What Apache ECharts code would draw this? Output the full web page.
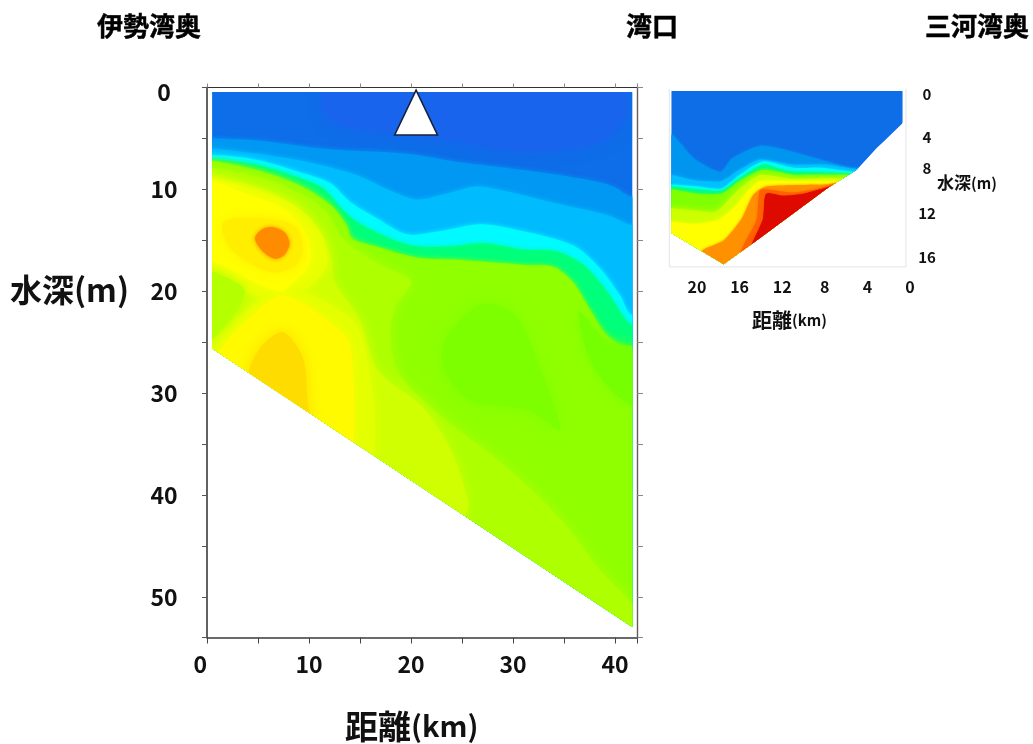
<!DOCTYPE html>
<html><head><meta charset="utf-8">
<style>html,body{margin:0;padding:0;background:#fff}#c{width:1033px;height:744px;filter:blur(0.45px)}</style>
<script src="https://cdn.jsdelivr.net/npm/echarts@6/dist/echarts.min.js"></script>
</head><body><div id="c"></div>
<script>
// Tick values
const mainDistanceTicks = [0, 10, 20, 30, 40];
const mainDepthTicks = [0, 10, 20, 30, 40, 50];
const insetDistanceTicks = [0, 4, 8, 12, 16, 20];
const insetDepthTicks = [0, 4, 8, 12, 16];

// Section outlines [km, depth m]
const mainSection = [[0.5,0.45],[41.7,0.45],[41.7,52.9],[0.5,25.6]];
const insetSection = [[22.4,0],[0.7,0],[0.7,3.1],[3.1,5.5],[5,7.6],[7.8,9.4],[14.4,14.4],[17.5,16.7],[22.4,13.7]];

// Main section: contour boundaries (deeper side is filled)
const mainC1 = [[0.6,5.0],[4.9,5.2],[11.4,6.0],[19.6,6.5],[24.5,7.3],[31,8.1],[37.5,9.1],[39.8,9.7],[41.6,10.7]];
const mainC2 = [[0.6,6.0],[4.9,6.5],[9.8,7.3],[14.7,8.6],[17.9,10.1],[20.6,11.0],[23.2,10.5],[26.4,9.7],[29.4,10.2],[34.3,11.4],[39.2,12.5],[41.6,13.5]];
const mainC3 = [[0.6,6.6],[4.9,7.1],[9.1,8.3],[12.1,9.4],[14.0,11.2],[16.6,12.8],[19.6,14.4],[22.8,14.1],[26.8,13.4],[31,14.1],[35.9,15.5],[38.5,17.7],[40.5,20.4],[41.6,22.3]];
const mainC4 = [[0.6,7.0],[4.9,7.6],[8.8,8.8],[11.4,9.9],[13,11.7],[14.7,13.2],[17.9,14.8],[20.6,15.6],[23.8,15.6],[27.1,15.3],[31,15.9],[34.3,16.1],[36.9,17.4],[39.2,20.0],[41.6,23.3]];
const mainC5 = [[0.6,7.2],[4.9,8.1],[9.1,9.6],[12.1,11.5],[13.7,13.5],[14.2,14.8],[16.6,15.6],[20.6,16.7],[24.5,16.9],[31,17.4],[34,17.6],[35.9,19.1],[37.5,21.7],[39.2,24.3],[41.6,25.8]];
// Main section: closed contour regions
const mainTopCore = [[12,-1],[40,-1],[41,3],[38,5.5],[31,6.2],[22,4.8],[12,3.2]];
const mainLimeA = [[-2,8],[0.6,7.9],[6.2,9.1],[11.1,11.6],[13.5,15],[17,17.4],[20,19],[18.4,21.5],[18,24.8],[18.9,28.2],[22.8,32.1],[29.7,37.5],[35,42.7],[38.5,47.3],[41.6,50.6],[44,56],[-2,56]];
const mainLimeB = [[-2,8.5],[0.6,8.8],[5.7,10],[9.6,12.5],[12.1,16.5],[12.5,19],[15,22.8],[16.7,27.7],[21.2,31.4],[23.8,35.3],[25.1,38.8],[25.5,41.5],[20,50],[-2,50]];
const mainPaleUpper = [[-2,8.9],[0.6,9],[4,9.8],[8.5,11.5],[11.3,14.5],[11.7,17.5],[9.5,20],[7.2,21],[3.5,19.8],[0.6,18],[-2,18]];
const mainPaleLower = [[7.5,19.5],[15,24],[15,40],[-1,40],[0,26],[4,21.7]];
const mainYellowUpper = [[-2,9],[0.6,9.2],[3.2,10.2],[7.5,11.9],[9.8,14.5],[10.1,17.1],[8.5,19.1],[7.2,20],[3.9,18.7],[0.6,17.1],[-2,17]];
const mainYellowLower = [[7.5,20.4],[13.5,24.3],[14.2,26.7],[14.3,35.1],[13,40],[-1,32],[1.3,25.8],[4.2,22.6]];
const mainLeftPatch = [[-2,17.5],[0.6,18.1],[3.7,20],[0.6,24.6],[-2,25]];
const mainGoldUpper = [[1.6,13.2],[4.9,12.8],[8.5,13.5],[9.4,15.5],[8.8,17.4],[6.2,18.1],[2.3,15.8]];
const mainGoldLower = [[7.5,24],[9.4,26.5],[9.8,30],[9.9,35],[3.5,32],[4.2,27.5],[5.5,25.2]];
const mainOrange = [[4.7,14.8],[5.4,13.9],[6.5,13.7],[7.6,14.2],[8.1,15.3],[7.6,16.4],[6.7,16.8],[5.5,16.1]];
const mainGreenCore = [[23.3,24.8],[26.8,21.3],[30.2,22.3],[33.1,28.7],[34.6,33.6],[31.7,31.7],[25.8,30.7],[23.3,27.7]];
const mainGreenEdge = [[36.5,22],[39.2,24.8],[43,26],[43,31.5],[40,30],[37.5,26.5]];
const mainMarker = [[20.5,0.25],[22.6,4.66],[18.4,4.66]];

// Inset section: contour boundaries
const insetC1 = [[22.4,4.2],[20.3,6.5],[17.8,7.8],[16.7,6.5],[14.1,5.3],[11.6,5.7],[8.8,6.5],[5,7.5]];
const insetC2 = [[22.4,8.1],[20.3,8.6],[17.7,8.7],[16,7.6],[14.1,6.6],[11,7.1],[7.8,7.1],[5.2,7.5]];
const insetC3 = [[22.4,9.0],[20,9.2],[17.7,9.4],[16,8.1],[13.8,6.8],[11,7.4],[8.5,7.4],[5,7.8]];
const insetC4 = [[22.4,9.2],[20,9.5],[17.7,9.6],[16,8.4],[13.8,7.1],[11.6,7.7],[9.1,7.8],[5.6,7.9]];
const insetC5 = [[22.4,9.5],[20,9.9],[17.7,9.9],[16,8.7],[13.8,7.6],[11,8.1],[9.4,8.1],[5.9,8.1]];
const insetC6 = [[22.4,11.3],[20.3,11.5],[18.2,11.6],[16.3,9.7],[14.1,8.1],[11,8.5],[7.8,8.4],[6.1,8.4]];
const insetC7 = [[22.4,12.6],[20.3,12.8],[18,12.4],[16.3,11],[15,9.4],[14.1,8.7],[11,8.7],[7.8,8.7],[6.4,8.7]];
const insetC8 = [[21,17],[19.4,15.3],[17.5,14.4],[15.8,12.3],[14.7,10],[13.5,9.2],[7.8,9.0],[6.9,8.9]];
const insetDeepOrange = [[15.8,16],[14.4,12.4],[14.1,9.6],[13.5,9.5],[11,9.8],[9.5,9.6],[7.5,9.1],[5,8.5],[3,17]];
const insetRed = [[15,16],[13.8,12.3],[13.5,9.9],[11.9,10.1],[10,9.9],[7.5,9.2],[5,8.5],[3,17]];
const insetFrame = [[22.6,-0.2],[22.6,16.95],[0.38,16.95],[0.38,-0.2]];

const below = (curve, xA, xB, yEnd) => [[xA,curve[0][1]],...curve,[xB,curve[curve.length-1][1]],[xB,yEnd],[xA,yEnd]];
const mainBelow = c => below(c,-2,44,60);
const insetBelow = c => below(c,24,-1,20);

// [outline, colour, edge softness]
const mainLayers = [
  [mainSection,'#0E6DE8',0],[mainTopCore,'#1864EC',14],
  [mainBelow(mainC1),'#0098F2',5],[mainBelow(mainC2),'#00BCFF',5],[mainBelow(mainC3),'#00FAFF',4],
  [mainBelow(mainC4),'#00FF7A',4],[mainBelow(mainC5),'#90FF00',5],
  [mainLimeA,'#AEFF00',14],[mainLimeB,'#CFFF00',12],[mainPaleUpper,'#E8FF00',12],[mainPaleLower,'#E4FF00',12],
  [mainYellowUpper,'#FFFF00',12],[mainYellowLower,'#FFFA00',10],[mainLeftPatch,'#B4FF00',12],
  [mainGoldUpper,'#FFEE00',14],[mainGoldLower,'#FFDC00',14],[mainOrange,'#FF8C00',4],
  [mainGreenCore,'#7EFF00',18],[mainGreenEdge,'#76FF00',12]
];
const insetLayers = [
  [insetSection,'#0E6EE8',0],[insetBelow(insetC1),'#0096F0',3],[insetBelow(insetC2),'#00C0FF',3],[insetBelow(insetC3),'#00FFF0',2],
  [insetBelow(insetC4),'#00FF80',2],[insetBelow(insetC5),'#80FF00',3],[insetBelow(insetC6),'#CCFF00',6],
  [insetBelow(insetC7),'#FFFF00',4],[insetBelow(insetC8),'#FF9000',3],[insetDeepOrange,'#FF6000',2],[insetRed,'#DE0A00',1]
];

function layerSeries(layers, section, axisIndex, smooth){
  return {
    type:'custom', coordinateSystem:'cartesian2d', xAxisIndex:axisIndex, yAxisIndex:axisIndex, clip:false, silent:true,
    data: layers.map((l,i)=>[i]), encode:{x:-1,y:-1},
    renderItem(params, api){
      const layer = layers[params.dataIndex];
      const px = p => api.coord(p);
      return {
        type:'polygon', shape:{points:layer[0].map(px), smooth},
        style:{fill:layer[1],shadowColor:layer[1],shadowBlur:layer[2]},
        clipPath:{type:'polygon', shape:{points:section.map(px)}}
      };
    }
  };
}
function outlineSeries(points, axisIndex, fill, stroke, width, closed){
  return {
    type:'custom', coordinateSystem:'cartesian2d', xAxisIndex:axisIndex, yAxisIndex:axisIndex, clip:false, silent:true, z:5,
    data:[[0]], encode:{x:-1,y:-1},
    renderItem(params, api){
      return {type:closed?'polygon':'polyline', shape:{points:points.map(p=>api.coord(p))},
        style:{fill:closed?fill:'none',stroke,lineWidth:width,lineJoin:'miter'}};
    }
  };
}
const FONT = '"Noto Sans CJK JP","Noto Sans",sans-serif';
const lineDark = {lineStyle:{color:'#3a3a3a',width:1.6}};
const mainXRange = {min:0,max:42.16,interval:5};
const mainYRange = {min:0,max:53.93,interval:5,inverse:true};
const onlyTicks = list => v => list.includes(v) ? String(v) : '';

const insetShift = {0:['s0',[6,0,0,0]],4:['s4',[9,0,0,0]],8:['s8',[0,0,12,0]],12:['s12',[0,0,5,0]],16:['s16',[0,0,0,0]]};
const insetRich = {};
Object.values(insetShift).forEach(([k,p])=>{insetRich[k]={padding:p,fontSize:15,fontWeight:'bold',color:'#111',fontFamily:FONT};});

const titleTexts = [['伊勢湾奥',97,26],['湾口',626,26],['三河湾奥',925,26]];

const option = {
  animation:false, backgroundColor:'#fff',
  grid:[
    {left:207,top:87.5,width:430,height:550},
    {left:669,top:91,width:241,height:176}
  ],
  xAxis:[
    {type:'value',gridIndex:0,position:'bottom',...mainXRange,splitLine:{show:false},
      axisLine:{show:true,onZero:false,...lineDark},axisTick:{show:true,length:6,lineStyle:{color:'#444',width:1}},
      axisLabel:{show:true,margin:15,fontSize:23,fontWeight:'bold',color:'#111',fontFamily:FONT,alignMinLabel:'right',
        formatter:onlyTicks(mainDistanceTicks)}},
    {type:'value',gridIndex:0,position:'top',...mainXRange,splitLine:{show:false},
      axisLine:{show:true,onZero:false,lineStyle:{color:'#333',width:1.2}},axisTick:{show:true,length:4,lineStyle:{color:'#888',width:1}},axisLabel:{show:false}},
    {type:'value',gridIndex:1,position:'bottom',min:0,max:22.63,interval:4,inverse:true,splitLine:{show:false},
      axisLine:{show:false},axisTick:{show:false},
      axisLabel:{show:true,margin:12,fontSize:16,fontWeight:'bold',color:'#111',fontFamily:FONT,formatter:onlyTicks(insetDistanceTicks)}}
  ],
  yAxis:[
    {type:'value',gridIndex:0,position:'left',...mainYRange,splitLine:{show:false},
      axisLine:{show:true,onZero:false,...lineDark},axisTick:{show:true,length:5,lineStyle:{color:'#555',width:1}},
      axisLabel:{show:true,margin:43,align:'center',fontSize:23,fontWeight:'bold',color:'#111',fontFamily:FONT,
        formatter:v=> v===0 ? '{z|0}' : onlyTicks(mainDepthTicks)(v),
        rich:{z:{padding:[10,0,0,0],fontSize:23,fontWeight:'bold',color:'#111',fontFamily:FONT}}}},
    {type:'value',gridIndex:0,position:'right',...mainYRange,splitLine:{show:false},
      axisLine:{show:true,onZero:false,lineStyle:{color:'#6a5a5a',width:1.4}},axisTick:{show:true,length:6,lineStyle:{color:'#888',width:1}},axisLabel:{show:false}},
    {type:'value',gridIndex:1,position:'right',min:0,max:16.96,interval:4,inverse:true,splitLine:{show:false},
      axisLine:{show:false},axisTick:{show:false},
      axisLabel:{show:true,margin:17,align:'center',fontSize:15,fontWeight:'bold',color:'#111',fontFamily:FONT,rich:insetRich,
        formatter:v=> insetDepthTicks.includes(v) ? `{${insetShift[v][0]}|${v}}` : ''}}
  ],
  series:[
    layerSeries(mainLayers, mainSection, 0, 0.3),
    outlineSeries(mainMarker, 0, '#fff', '#16233f', 1.6, true),
    {...outlineSeries(insetFrame, 2, 'none', '#e4e4e4', 1, false), yAxisIndex:2, z:1},
    layerSeries(insetLayers, insetSection, 2, 0.22)
  ],
  graphic:[
    ...titleTexts.map(([text,x,y])=>({type:'text',x,y,style:{text,font:`bold 26px ${FONT}`,fill:'#000',stroke:'#000',lineWidth:0.5,verticalAlign:'middle',textAlign:'left'}})),
    {type:'text',x:10,y:290,style:{rich:{a:{font:`bold 32px ${FONT}`,fill:'#111'},b:{font:`bold 32px ${FONT}`,fill:'#111'}},text:'{a|水深}{b|(m)}',verticalAlign:'middle'}},
    {type:'text',x:345,y:726,style:{rich:{a:{font:`bold 33px ${FONT}`,fill:'#111'},b:{font:`bold 29px ${FONT}`,fill:'#111'}},text:'{a|距離}{b|(km)}',verticalAlign:'middle'}},
    {type:'text',x:937,y:183,style:{rich:{a:{font:`bold 17px ${FONT}`,fill:'#111'},b:{font:`bold 15px ${FONT}`,fill:'#111'}},text:'{a|水深}{b|(m)}',verticalAlign:'middle'}},
    {type:'text',x:752,y:320,style:{rich:{a:{font:`bold 20px ${FONT}`,fill:'#111'},b:{font:`bold 15px ${FONT}`,fill:'#111'}},text:'{a|距離}{b|(km)}',verticalAlign:'middle'}}
  ]
};
echarts.init(document.getElementById('c'),null,{renderer:'canvas'}).setOption(option);
</script></body></html>
